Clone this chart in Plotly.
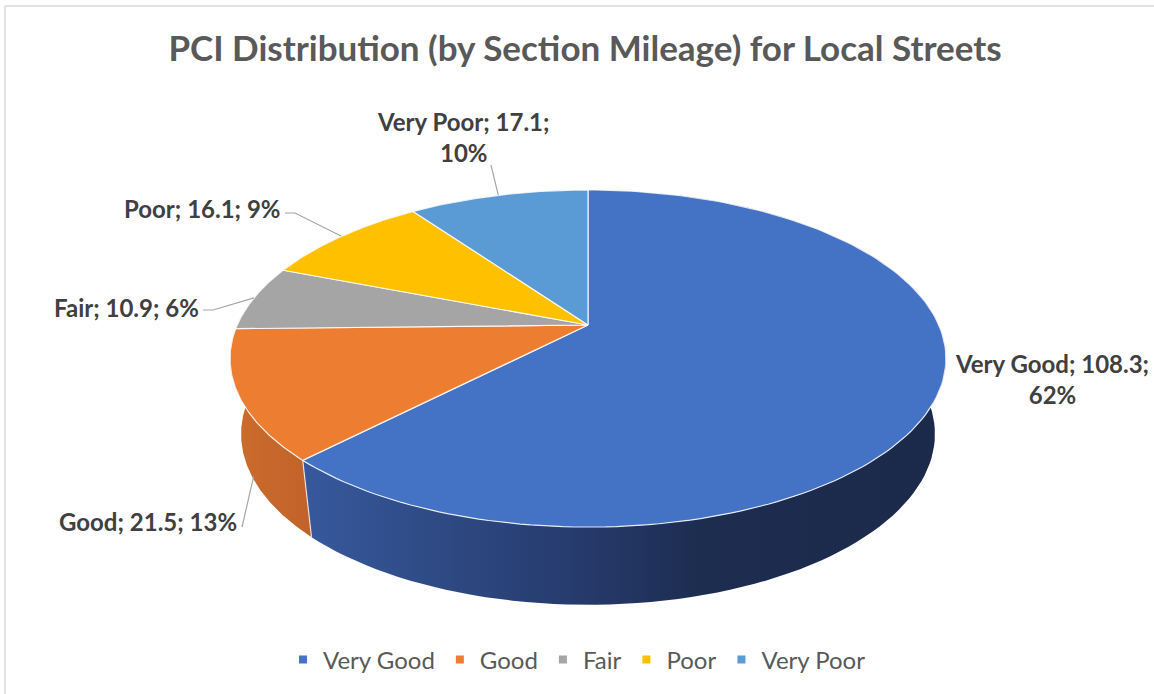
import numpy as np
import plotly.graph_objects as go

# ---------------- data ----------------
categories = ["Very Good", "Good", "Fair", "Poor", "Very Poor"]
mileage = [108.3, 21.5, 10.9, 16.1, 17.1]
percent_labels = [62, 13, 6, 9, 10]
title_text = "PCI Distribution (by Section Mileage) for Local Streets"

# ---------------- style ----------------
top_colors = ["#4472C4", "#ED7D31", "#A5A5A5", "#FFC000", "#5B9BD5"]
side_scales = [
    [[0, "#37599c"], [0.45, "#25396a"], [0.62, "#1d2d50"], [1, "#1b2a4a"]],
    [[0, "#cc6c2c"], [1, "#c1622a"]],
    [[0, "#8c8c8c"], [1, "#7a7a7a"]],
    [[0, "#d9a300"], [1, "#c89500"]],
    [[0, "#4c85b8"], [1, "#3f74a6"]],
]
FONT = "Lato"
W, H = 1154, 694

# 3-D pie geometry (pixel space, perspective ellipse)
CX, CY = 588, 325          # apex of the top face
A, B, K = 350.8, 161.9, 0.199
AB, BB, CYB = 340.0, 164.0, 400.0   # bottom rim


def rim(theta, bottom=False):
    t = np.radians(theta)
    u, v = np.sin(t), -np.cos(t)
    w = 1 - K * v
    if bottom:
        return CX + AB * u / w, CYB + BB * v / w
    return CX + A * u / w, CY + B * v / w


total = sum(mileage)
bounds = np.concatenate([[0], np.cumsum(mileage) / total * 360.0])

fig = go.Figure()

# side walls
for i, cat in enumerate(categories):
    th = np.linspace(bounds[i], bounds[i + 1], 120)
    tx, ty = rim(th)
    bx, by = rim(th, bottom=True)
    xs = np.concatenate([tx, bx[::-1], tx[:1]])
    ys = np.concatenate([ty, by[::-1], ty[:1]])
    fig.add_trace(go.Scatter(
        x=xs, y=ys, mode="lines", fill="toself",
        line=dict(width=0, color="rgba(0,0,0,0)"),
        fillgradient=dict(type="horizontal", colorscale=side_scales[i]),
        hoverinfo="skip", showlegend=False))

# seams on the visible front side
for b in bounds[1:-1]:
    if -np.cos(np.radians(b)) > 0:
        tx, ty = rim(b)
        bx, by = rim(b, bottom=True)
        fig.add_trace(go.Scatter(x=[tx, bx], y=[ty, by], mode="lines",
                                 line=dict(color="rgba(255,255,255,0.75)", width=1.2),
                                 hoverinfo="skip", showlegend=False))

# top faces
for i, cat in enumerate(categories):
    th = np.linspace(bounds[i], bounds[i + 1], 160)
    tx, ty = rim(th)
    xs = np.concatenate([[CX], tx, [CX]])
    ys = np.concatenate([[CY], ty, [CY]])
    fig.add_trace(go.Scatter(
        x=xs, y=ys, mode="lines", fill="toself", fillcolor=top_colors[i],
        line=dict(color="rgba(255,255,255,0.85)", width=1.2),
        hoverinfo="skip", showlegend=False))

# legend entries
for i, cat in enumerate(categories):
    fig.add_trace(go.Scatter(
        x=[None], y=[None], mode="markers", name=cat,
        marker=dict(symbol="square", size=8, color=top_colors[i]),
        showlegend=True))

# data labels and leader lines
label_pos = {
    "Very Good": dict(x=1052, y=379, xanchor="center", br=True),
    "Good": dict(x=239, y=521, xanchor="right", br=False),
    "Fair": dict(x=201, y=307, xanchor="right", br=False),
    "Poor": dict(x=283, y=208, xanchor="right", br=False),
    "Very Poor": dict(x=463, y=137, xanchor="center", br=True),
}
leader_start = {
    "Good": [(242, 527)],
    "Fair": [(203, 310), (213, 310)],
    "Poor": [(285, 213), (295, 213)],
    "Very Poor": [(491, 165)],
}
for i, cat in enumerate(categories):
    p = label_pos[cat]
    sep = ";<br>" if p["br"] else "; "
    text = f"{cat}; {mileage[i]}{sep}{percent_labels[i]}%"
    fig.add_annotation(x=p["x"], y=p["y"], text=text, showarrow=False,
                       xanchor=p["xanchor"], yanchor="middle", align="center",
                       font=dict(family=FONT, size=24, color="#404040", weight="bold"))
    if cat in leader_start:
        mid = (bounds[i] + bounds[i + 1]) / 2
        if cat == "Good":
            t0 = np.array(rim(mid - 3))
            b0 = np.array(rim(mid - 3, bottom=True))
            end = t0 + 0.95 * (b0 - t0)
        else:
            end = np.array(rim(mid))
        pts = leader_start[cat] + [tuple(end)]
        fig.add_trace(go.Scatter(x=[q[0] for q in pts], y=[q[1] for q in pts],
                                 mode="lines", line=dict(color="#a6a6a6", width=1.2),
                                 hoverinfo="skip", showlegend=False))

# chart frame (top and left edges)
fig.add_shape(type="line", x0=5, x1=W, y0=6, y1=6, xref="x", yref="y",
              line=dict(color="#e2e2e2", width=2))
fig.add_shape(type="line", x0=5, x1=5, y0=6, y1=H, xref="x", yref="y",
              line=dict(color="#e2e2e2", width=2))

fig.update_layout(
    width=W, height=H,
    margin=dict(l=0, r=0, t=0, b=0),
    paper_bgcolor="white", plot_bgcolor="white",
    title=dict(text=title_text, x=585 / W, y=1 - 49 / H, xanchor="center", yanchor="middle",
               font=dict(family=FONT, size=35, color="#595959", weight="bold")),
    xaxis=dict(range=[0, W], visible=False, fixedrange=True),
    yaxis=dict(range=[H, 0], visible=False, fixedrange=True),
    legend=dict(orientation="h", x=0.5, xanchor="center", y=1 - 660 / H, yanchor="middle",
                font=dict(family=FONT, size=24, color="#595959"), itemwidth=30,
                bgcolor="rgba(0,0,0,0)"),
    showlegend=True,
)

fig.write_html("out.html", config={"displayModeBar": False},
               post_script="document.body.style.margin='0';document.body.style.overflow='hidden';")
